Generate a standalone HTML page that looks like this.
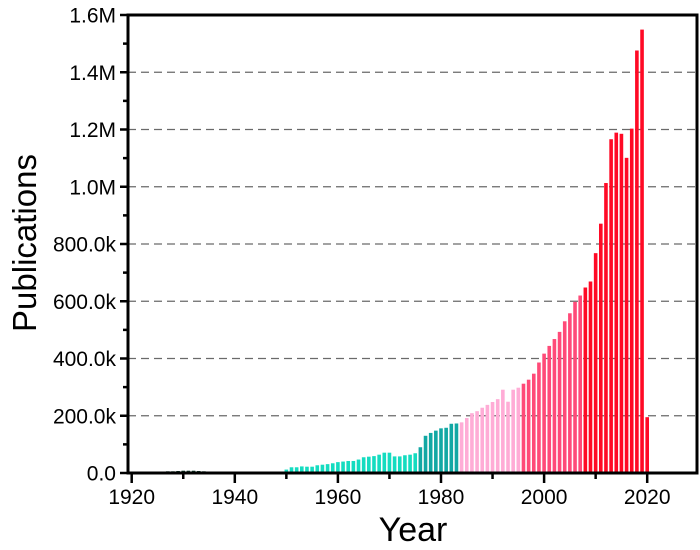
<!DOCTYPE html>
<html><head><meta charset="utf-8"><style>
html,body{margin:0;padding:0;background:#fff;}
svg{display:block;font-family:"Liberation Sans",Arial,sans-serif;}
</style></head><body>
<svg id="chart" width="700" height="550" viewBox="0 0 700 550" xmlns="http://www.w3.org/2000/svg">
<g id="grid"></g>
<g id="bars"></g>
<g id="axes"></g>
<text x="413" y="541" font-size="34" text-anchor="middle">Year</text>
<text transform="translate(36,243) rotate(-90)" font-size="33" text-anchor="middle">Publications</text>
</svg>
<script>
const years = [];
for (let y = 1920; y <= 2020; y++) years.push(y);
const earlyValues = [4,4,4,4,5,5,5,6,6,7,8,8,8,7,6,5,3,2,2,2,2,2,2,2,2,2,2,3,3,5];
const midValues = [12,20,20,23,22,22,27,29,31,34,38,40,42,42,47,55,57,59,64,71,71,58,58,62,64,69,90,130,140,148,156,158,172,173];
const lateValues = [177,192,209,216,228,238,248,258,291,249,291,298,312,326,347,386,417,444,468,493,530,558,598,620,648,669,768,871,1013,1166,1189,1185,1101,1203,1476,1549,195];
const values = earlyValues.concat(midValues, lateValues); // thousands
const yTicks = [0,200,400,600,800,1000,1200,1400,1600];
const yTickLabels = ["0.0","200.0k","400.0k","600.0k","800.0k","1.0M","1.2M","1.4M","1.6M"];
const xTicks = [1920,1940,1960,1980,2000,2020];
const xMinorTicks = [1930,1950,1970,1990,2010];

const NS = "http://www.w3.org/2000/svg";
const L = 128, R = 697, T = 15, B = 473;
function xs(year){ return 131.7 + (year - 1920) * 5.155; }
function ys(v){ return B - (v / 1600) * (B - T); }
function colorFor(y){
  if (y < 1950) return "#0f3d2a";
  if (y < 1976) return "#14dcc0";
  if (y < 1984) return "#11a8a4";
  if (y < 1996) return "#ffacd6";
  if (y < 2008) return "#ff4a78";
  return "#ff0a25";
}
function mk(tag, attrs, parent){
  const e = document.createElementNS(NS, tag);
  for (const k in attrs) e.setAttribute(k, attrs[k]);
  parent.appendChild(e);
  return e;
}
const grid = document.getElementById('grid');
const bars = document.getElementById('bars');
const axes = document.getElementById('axes');

yTicks.forEach((v, i) => {
  const y = ys(v);
  if (v > 0 && v < 1600) {
    const g = mk('line', {x1:L, x2:R, y1:y, y2:y, stroke:'#6a6a6a', 'stroke-width':1.3, 'stroke-dasharray':'8,5'}, grid);
    
    
  }
  const t = mk('line', {x1:L-8, x2:L, y1:y, y2:y, stroke:'#000', 'stroke-width':2.5}, axes);
  
  
  const lb = mk('text', {x:L-12, y:y+7.5, 'font-size':21, 'text-anchor':'end'}, axes);
  lb.textContent = yTickLabels[i];
  
  
  if (i < yTicks.length - 1) {
    const ym = ys(v + 100);
    const m = mk('line', {x1:L-5, x2:L, y1:ym, y2:ym, stroke:'#000', 'stroke-width':2.5}, axes);
    
    
  }
});

years.forEach((yr, i) => {
  const v = values[i];
  const y = ys(v);
  const r = mk('rect', {x:xs(yr)-1.8, y:y, width:3.6, height:Math.max(0, B-y), fill:colorFor(yr)}, bars);
  
  
});

const frame = mk('rect', {x:L, y:T, width:R-L, height:B-T, fill:'none', stroke:'#000', 'stroke-width':3}, axes);



xTicks.forEach(yr => {
  const x = xs(yr);
  const t = mk('line', {x1:x, x2:x, y1:B, y2:B+10, stroke:'#000', 'stroke-width':2.5}, axes);
  
  
  const lb = mk('text', {x:x, y:B+31, 'font-size':21, 'text-anchor':'middle'}, axes);
  lb.textContent = yr;
  
  
});
xMinorTicks.forEach(yr => {
  const x = xs(yr);
  const t = mk('line', {x1:x, x2:x, y1:B, y2:B+6, stroke:'#000', 'stroke-width':2.5}, axes);
  
  
});
</script>
</body></html>
